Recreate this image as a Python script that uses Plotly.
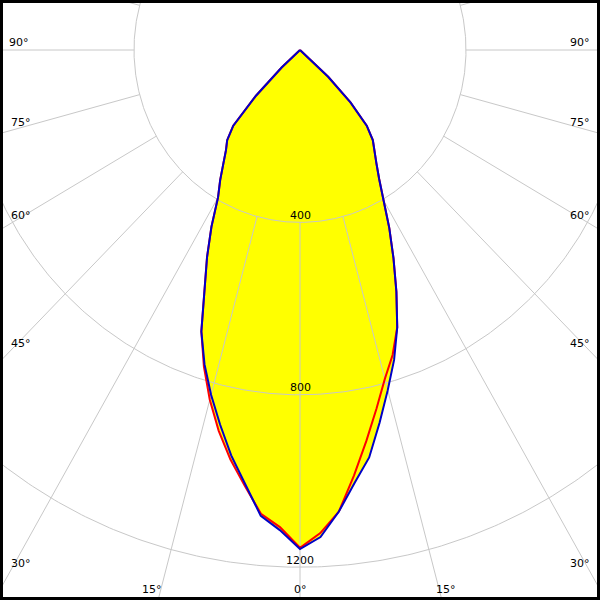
import numpy as np
import plotly.graph_objects as go

# ---- data (candela values) ----
gamma_deg = [0, 2.5, 5, 7.5, 10, 12.5, 15, 17.5, 20, 22.5, 25, 27.5, 30,
             32.5, 35, 37.5, 40, 42.5, 45, 47.5, 50, 60, 70, 80, 90]
c0_cd   = [1155, 1122, 1075, 996, 921, 852, 790, 742, 685, 607, 533, 466, 400,
           355, 321, 293, 273, 238, 172, 92, 0, 0, 0, 0, 0]
c180_cd = [1155, 1108, 1080, 1020, 965, 905, 840, 770, 695, 600, 530, 462, 395,
           358, 322, 293, 273, 238, 150, 60, 0, 0, 0, 0, 0]
c90_cd  = [1158, 1131, 1075, 1012, 960, 886, 817, 754, 685, 607, 533, 466, 400,
           355, 321, 293, 273, 238, 172, 92, 0, 0, 0, 0, 0]
c270_cd = [1158, 1115, 1085, 1015, 955, 890, 828, 765, 695, 600, 530, 462, 395,
           358, 322, 293, 273, 238, 150, 60, 0, 0, 0, 0, 0]

ring_values = [400, 800, 1200]
ring_labels = ["400", "800", "1200"]
spoke_angles = list(range(0, 360, 15))

# ---- geometry helpers ----
def curve(right, left):
    g = np.radians(gamma_deg)
    r = np.asarray(right, float)
    l = np.asarray(left, float)
    xr, yr = r * np.sin(g), -r * np.cos(g)
    xl, yl = -l * np.sin(g), -l * np.cos(g)
    return np.concatenate([xl[::-1], xr]), np.concatenate([yl[::-1], yr])

SX, SY = 0.415, 0.431   # px per cd horizontally / vertically
CX, CY = 300, 50        # pole position in px
xr_ = [-CX / SX, (600 - CX) / SX]
yr_ = [-(600 - CY) / SY, CY / SY]

fig = go.Figure()

red_x, red_y = curve(c0_cd, c180_cd)
blue_x, blue_y = curve(c90_cd, c270_cd)

for xx, yy in [(red_x, red_y), (blue_x, blue_y)]:
    fig.add_trace(go.Scatter(x=xx, y=yy, mode="lines", fill="toself",
                             fillcolor="#FFFF00", line=dict(width=0),
                             hoverinfo="skip", showlegend=False))

grid_col = "#C8C8C8"
t = np.linspace(0, 2 * np.pi, 721)
for rv in ring_values:
    fig.add_trace(go.Scatter(x=rv * np.sin(t), y=rv * np.cos(t), mode="lines",
                             line=dict(color=grid_col, width=1),
                             hoverinfo="skip", showlegend=False))
for a in spoke_angles:
    ar = np.radians(a)
    rr = np.array([ring_values[0], 3000])
    fig.add_trace(go.Scatter(x=rr * np.sin(ar), y=-rr * np.cos(ar), mode="lines",
                             line=dict(color=grid_col, width=1),
                             hoverinfo="skip", showlegend=False))

fig.add_trace(go.Scatter(x=red_x, y=red_y, mode="lines",
                         line=dict(color="#FF0000", width=2),
                         hoverinfo="skip", showlegend=False))
fig.add_trace(go.Scatter(x=blue_x, y=blue_y, mode="lines",
                         line=dict(color="#0000C8", width=2),
                         hoverinfo="skip", showlegend=False))

font = dict(family="DejaVu Sans, Verdana, sans-serif", size=11, color="black")
for rv, lab in zip(ring_values, ring_labels):
    fig.add_annotation(x=0, y=-rv, text=lab, showarrow=False, yshift=7,
                       xanchor="center", yanchor="middle", font=font)

angle_labels = [
    ("90°", 19, 42), ("75°", 21, 122), ("60°", 21, 215), ("45°", 21, 343), ("30°", 21, 563),
    ("90°", 580, 42), ("75°", 580, 122), ("60°", 580, 215), ("45°", 580, 343), ("30°", 580, 563),
    ("15°", 152, 589), ("0°", 300, 589), ("15°", 446, 589),
]
for txt, px, py in angle_labels:
    fig.add_annotation(x=px / 600, y=1 - py / 600, xref="paper", yref="paper",
                       text=txt, showarrow=False, xanchor="center",
                       yanchor="middle", font=font)

fig.add_shape(type="rect", xref="paper", yref="paper", x0=0, y0=0, x1=1, y1=1,
              line=dict(color="black", width=6))

fig.update_layout(
    width=600, height=600, margin=dict(l=0, r=0, t=0, b=0),
    paper_bgcolor="white", plot_bgcolor="white", showlegend=False,
    xaxis=dict(range=xr_, visible=False, fixedrange=True),
    yaxis=dict(range=yr_, visible=False, fixedrange=True),
)

fig.write_html("out.html", config={"displayModeBar": False},
               post_script="document.body.style.margin='0';document.body.style.overflow='hidden';")
